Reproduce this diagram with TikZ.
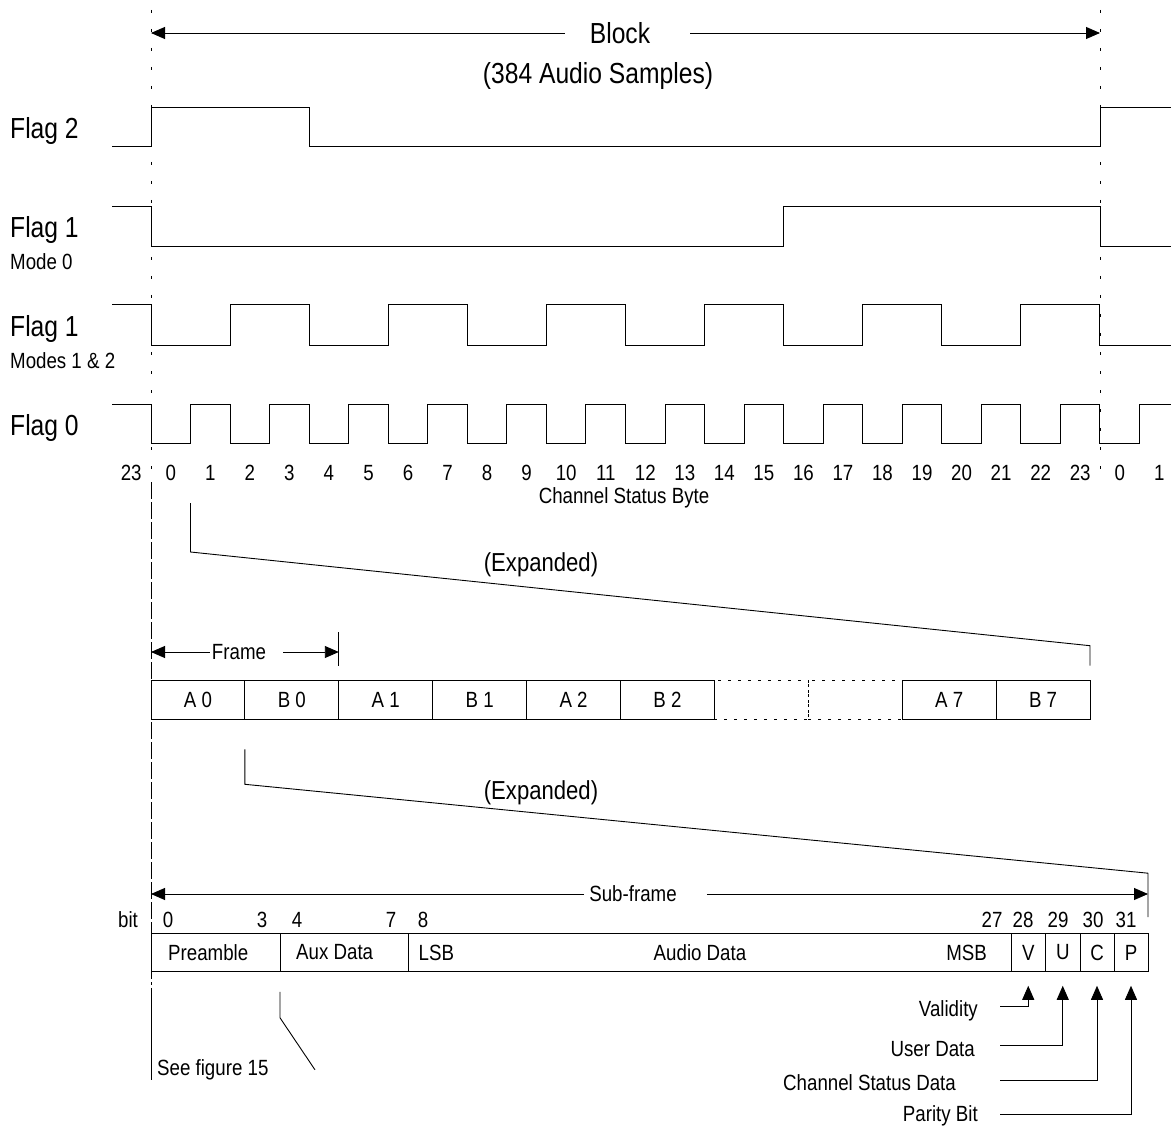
\documentclass[tikz,border=0pt]{standalone}
\usepackage{fontspec}
\setmainfont{Liberation Sans}[FakeStretch=0.85]
\usetikzlibrary{arrows.meta,positioning}

\tikzset{
  lbl/.style={font=\fontsize{22}{26}\selectfont, inner sep=0pt},
  biglbl/.style={font=\fontsize{29}{34}\selectfont, inner sep=0pt},
  explbl/.style={font=\fontsize{26}{30}\selectfont, inner sep=0pt},
  wave/.style={line width=1pt},
  arr/.style={line width=0.9pt, -{Triangle[length=14pt,width=12pt]}},
  cell/.style={draw, line width=0.9pt, minimum width=93.9pt, minimum height=38.6pt,
    inner sep=0pt, outer sep=0pt, anchor=west, font=\fontsize{22}{26}\selectfont},
  dotcell/.style={cell, dash pattern=on 3pt off 7pt},
  sbox/.style={draw, line width=0.9pt, minimum height=38.6pt, inner sep=0pt,
    outer sep=0pt, anchor=west, font=\fontsize{22}{26}\selectfont},
  guide/.style={line width=0.8pt, dash pattern=on 3pt off 16pt, dash phase=9pt},
  guidelong/.style={line width=0.8pt, dash pattern=on 17pt off 3pt},
}
\newcommand{\sampw}{39.54}

\begin{document}
\begin{tikzpicture}[x=1pt,y=-1pt]
  \useasboundingbox (0,0) rectangle (1171,1126);

  % block boundaries
  \draw[guide] (151,0) -- (151,482);
  \draw[guide] (1100,0) -- (1100,482);
  \draw[guidelong] (151,482) -- (151,985);

  \coordinate (blkl) at (151,33);
  \coordinate (blkr) at (1100,33);
  \node[biglbl] (block) at (620,33) {Block};
  \node[biglbl, anchor=base] (samples) at (598,84) {(384 Audio Samples)};
  \draw[arr] ([xshift=-25pt]block.west) -- (blkl);
  \draw[arr] ([xshift=40pt]block.east) -- (blkr);

  % flags
  \node[biglbl, anchor=base west] (flag2) at (10,139) {Flag 2};
  \node[biglbl, anchor=base west] (flag1a) at (10,238) {Flag 1};
  \node[lbl, anchor=base west] (mode0) at (10,270) {Mode 0};
  \node[biglbl, anchor=base west] (flag1b) at (10,337) {Flag 1};
  \node[lbl, anchor=base west] (mode12) at (10,368) {Modes 1 \& 2};
  \node[biglbl, anchor=base west] (flag0) at (10,435) {Flag 0};

  \draw[wave] (112,147) -- (151,147) -- (151,108) -- ({151+4*\sampw},108)
    -- ({151+4*\sampw},147) -- (1100,147) -- (1100,108) -- (1171,108);
  \draw[wave] (112,207) -- (151,207) -- (151,247) -- ({151+16*\sampw},247)
    -- ({151+16*\sampw},207) -- (1100,207) -- (1100,247) -- (1171,247);
  \draw[wave] (112,305) -- (151,305) foreach \i in {1,...,6} {
      -- ++(0,40) -- ++(2*\sampw,0) -- ++(0,-40) -- ++(2*\sampw,0) }
    -- ++(0,40) -- (1171,345);
  \draw[wave] (112,404) -- (151,404) foreach \i in {1,...,12} {
      -- ++(0,39) -- ++(\sampw,0) -- ++(0,-39) -- ++(\sampw,0) }
    -- ++(0,39) -- ++(\sampw,0) -- ++(0,-39) -- (1171,404);

  % channel status byte numbers
  \node[lbl, anchor=base] (csprev) at ({151-0.5*\sampw},480) {23};
  \foreach \i in {0,...,23}
    \node[lbl, anchor=base] (cs\i) at ({151+(\i+0.5)*\sampw},480) {\i};
  \node[lbl, anchor=base] (csnexta) at ({1100+0.5*\sampw},480) {0};
  \node[lbl, anchor=base] (csnextb) at ({1100+1.5*\sampw},480) {1};
  \node[lbl, anchor=base] (csbyte) at (624,503) {Channel Status Byte};

  % frames
  \foreach \lab [count=\i from 0] in {A 0,B 0,A 1,B 1,A 2,B 2}
    \node[cell] (f\i) at ({151+\i*93.9},700) {\lab};
  \node[dotcell, right=0pt of f5] (f6) {};
  \node[dotcell, right=0pt of f6] (f7) {};
  \node[cell, right=0pt of f7] (f8) {A 7};
  \node[cell, right=0pt of f8] (f9) {B 7};

  \coordinate (exa) at ({151+\sampw},503);
  \node[explbl, anchor=base] (expa) at (541,571) {(Expanded)};
  \draw[line width=0.9pt] (exa) -- ++(0,49) -- ([yshift=35pt]f9.north east)
    -- ([yshift=15pt]f9.north east);

  \node[lbl] (frame) at (239,652) {Frame};
  \draw[arr] ([xshift=-2pt]frame.west) -- (f0.north west |- frame);
  \draw[arr] ([xshift=17pt]frame.east) -- (f2.north west |- frame);
  \draw[line width=0.9pt] ([yshift=15pt]f2.north west) -- ++(0,-34);

  % sub-frame
  \node[sbox, minimum width=129pt] (pre) at (151,952.5) {};
  \node[sbox, minimum width=128.5pt, right=0pt of pre] (aux) {};
  \node[sbox, minimum width=602.5pt, right=0pt of aux] (audio) {};
  \node[sbox, minimum width=34.5pt, right=0pt of audio] (v) {V};
  \node[sbox, minimum width=34.5pt, right=0pt of v] (u) {U};
  \node[sbox, minimum width=34pt, right=0pt of u] (c) {C};
  \node[sbox, minimum width=34pt, right=0pt of c] (p) {P};
  \node[lbl, right=17pt of pre.west] (pretxt) {Preamble};
  \node[lbl, right=16pt of aux.west] (auxtxt) {Aux Data};
  \node[lbl, right=10pt of audio.west] (lsb) {LSB};
  \node[lbl] (audiotxt) at (700,952.5) {Audio Data};
  \node[lbl, left=24pt of audio.east] (msb) {MSB};

  \node[lbl, anchor=base] (bitlbl) at (128,927) {bit};
  \foreach \b/\x in {0/168,3/262,4/297,7/391,8/423,27/992,28/1023,29/1058,30/1093,31/1126}
    \node[lbl, anchor=base] (bit\b) at (\x,927) {\b};

  \node[explbl, anchor=base] (expb) at (541,799) {(Expanded)};
  \draw[line width=0.9pt] ([yshift=-30pt]f1.south west) -- ++(0,35)
    -- ([yshift=60pt]p.north east) -- ([yshift=16pt]p.north east);

  \node[lbl] (sub) at (633,894) {Sub-frame};
  \draw[arr] ([xshift=-5pt]sub.west) -- (pre.north west |- sub);
  \draw[arr] ([xshift=30pt]sub.east) -- (p.north east |- sub);

  % bit meanings
  \node[lbl, anchor=base east] (val) at (978,1016.7) {Validity};
  \node[lbl, anchor=base east] (usr) at (975,1056.7) {User Data};
  \node[lbl, anchor=base east] (chs) at (956,1090) {Channel Status Data};
  \node[lbl, anchor=base east] (par) at (978,1121) {Parity Bit};
  \coordinate (valx) at (1000,1006);
  \coordinate (usrx) at (1000,1045.7);
  \coordinate (chsx) at (1000,1080);
  \coordinate (parx) at (1000,1114);
  \draw[arr] (valx) -| ([yshift=-14pt]v.south);
  \draw[arr] (usrx) -| ([yshift=-14pt]u.south);
  \draw[arr] (chsx) -| ([yshift=-14pt]c.south);
  \draw[arr] (parx) -| ([yshift=-14pt]p.south);

  % preamble and aux references
  \node[lbl, anchor=base west] (see) at (157,1075) {See figure 15};
  \draw[line width=0.9pt] ([yshift=-16pt]pre.south west) -- (pre.south west |- see.south);
  \draw[line width=0.9pt] ([yshift=-20pt]aux.south west) -- ++(0,26) -- ++(35,52);
\end{tikzpicture}
\end{document}
